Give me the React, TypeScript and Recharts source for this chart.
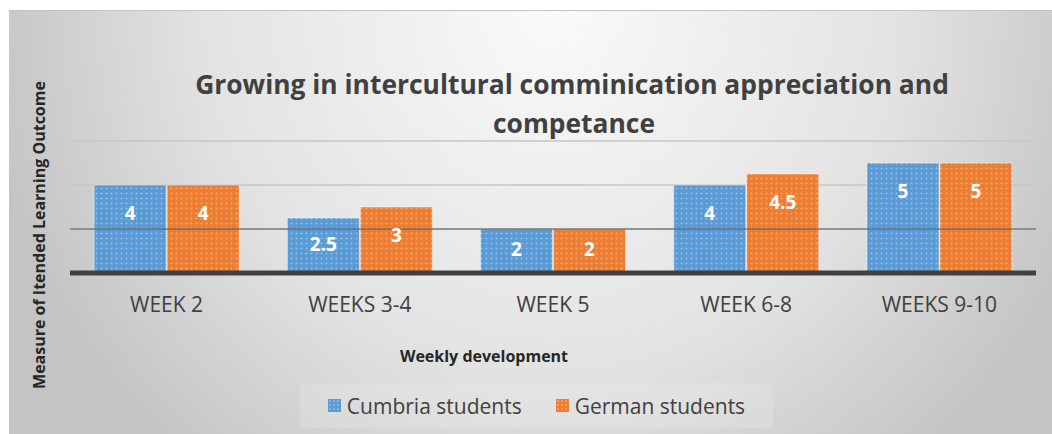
import React from 'react';
import { BarChart, Bar, XAxis, YAxis, CartesianGrid, ReferenceLine, LabelList } from 'recharts';

const categories = ['WEEK 2', 'WEEKS 3-4', 'WEEK 5', 'WEEK 6-8', 'WEEKS 9-10'];
const cumbria = [4, 2.5, 2, 4, 5];
const german = [4, 3, 2, 4.5, 5];
const yTicks = [0, 2, 4, 6];
const seriesNames = ['Cumbria students', 'German students'];

const data = categories.map((c, i) => ({ week: c, cumbria: cumbria[i], german: german[i] }));

const FONT = "'Open Sans', 'DejaVu Sans', sans-serif";
const BLUE = '#5b9bd5';
const ORANGE = '#ed7d31';

const renderLabel = (props: any) => {
  const { x, y, width, height, value } = props;
  const cy = Math.min(y + 28, y + height / 2 - 2);
  return (
    <text
      x={x + width / 2}
      y={cy}
      textAnchor="middle"
      dominantBaseline="central"
      fill="#ffffff"
      fontFamily={FONT}
      fontWeight={700}
      fontSize={19}
    >
      {value}
    </text>
  );
};

const Swatch = ({ color, id }: { color: string; id: string }) => (
  <svg width={13} height={13} style={{ display: 'inline-block', verticalAlign: 'middle' }}>
    <defs>
      <pattern id={id} width={4} height={4} patternUnits="userSpaceOnUse">
        <rect width={4} height={4} fill={color} />
        <path d="M2 1 V3 M1 2 H3" stroke="#ffffff" strokeOpacity={0.3} strokeWidth={0.8} />
      </pattern>
    </defs>
    <rect width={13} height={13} fill={`url(#${id})`} />
  </svg>
);

export default function App() {
  return (
    <div
      style={{
        position: 'absolute',
        left: 9,
        top: 10,
        width: 1043,
        height: 424,
        boxSizing: 'border-box',
        borderTop: '1px solid #c4c4c4',
        background:
          'radial-gradient(ellipse 55% 140% at 52% 0%, #fafafa 0%, #e3e3e3 60%, #c4c4c4 100%)',
        overflow: 'hidden',
      }}
    >
      <BarChart
        width={1043}
        height={423}
        data={data}
        margin={{ top: 130, right: 16, bottom: 131, left: 61 }}
        barCategoryGap="12.5%"
        barGap={1}
        style={{ position: 'absolute', left: 0, top: 0 }}
      >
        <defs>
          <pattern id="patBlue" width={5} height={5} patternUnits="userSpaceOnUse">
            <rect width={5} height={5} fill={BLUE} />
            <path d="M2.5 1.2 V3.8 M1.2 2.5 H3.8" stroke="#ffffff" strokeOpacity={0.22} strokeWidth={0.9} />
          </pattern>
          <pattern id="patOrange" width={5} height={5} patternUnits="userSpaceOnUse">
            <rect width={5} height={5} fill={ORANGE} />
            <path d="M2.5 1.2 V3.8 M1.2 2.5 H3.8" stroke="#ffffff" strokeOpacity={0.22} strokeWidth={0.9} />
          </pattern>
        </defs>
        <CartesianGrid vertical={false} stroke="#c6c6c6" strokeWidth={1.5} />
        <YAxis hide domain={[0, 6]} ticks={yTicks} />
        <XAxis
          dataKey="week"
          height={30}
          tickLine={false}
          tickSize={0}
          tickMargin={24}
          axisLine={{ stroke: '#404040', strokeWidth: 5 }}
          tick={{ fill: '#404040', fontSize: 21, fontFamily: FONT }}
          interval={0}
        />
        <Bar
          dataKey="cumbria"
          name={seriesNames[0]}
          fill="url(#patBlue)"
          stroke="rgba(255,255,255,0.45)"
          strokeWidth={1}
          isAnimationActive={false}
        >
          <LabelList dataKey="cumbria" content={renderLabel} />
        </Bar>
        <Bar
          dataKey="german"
          name={seriesNames[1]}
          fill="url(#patOrange)"
          stroke="rgba(255,255,255,0.45)"
          strokeWidth={1}
          isAnimationActive={false}
        >
          <LabelList dataKey="german" content={renderLabel} />
        </Bar>
        <ReferenceLine y={yTicks[1]} stroke="#555555" strokeOpacity={0.5} strokeWidth={2} />
        <text
          x={563}
          y={83}
          textAnchor="middle"
          fill="#404040"
          fontFamily={FONT}
          fontWeight={700}
          fontSize={26.4}
        >
          Growing in intercultural comminication appreciation and
        </text>
        <text
          x={565}
          y={122}
          textAnchor="middle"
          fill="#404040"
          fontFamily={FONT}
          fontWeight={700}
          fontSize={26.4}
        >
          competance
        </text>
        <text
          x={475}
          y={345}
          textAnchor="middle"
          dominantBaseline="central"
          fill="#262626"
          fontFamily={FONT}
          fontWeight={700}
          fontSize={16}
        >
          Weekly development
        </text>
        <text
          x={30}
          y={224}
          textAnchor="middle"
          dominantBaseline="central"
          transform="rotate(-90 30 224)"
          fill="#262626"
          fontFamily={FONT}
          fontWeight={700}
          fontSize={16}
        >
          Measure of Itended Learning Outcome
        </text>
      </BarChart>
      <div
        style={{
          position: 'absolute',
          left: 291,
          top: 372,
          width: 473,
          height: 45,
          background: 'rgba(255,255,255,0.14)',
          display: 'flex',
          alignItems: 'center',
          justifyContent: 'center',
          gap: 34,
          fontFamily: FONT,
          fontSize: 21,
          color: '#404040',
        }}
      >
        <span style={{ display: 'flex', alignItems: 'center', gap: 6 }}>
          <Swatch color={BLUE} id="swBlue" />
          <span>{seriesNames[0]}</span>
        </span>
        <span style={{ display: 'flex', alignItems: 'center', gap: 6 }}>
          <Swatch color={ORANGE} id="swOrange" />
          <span>{seriesNames[1]}</span>
        </span>
      </div>
    </div>
  );
}
